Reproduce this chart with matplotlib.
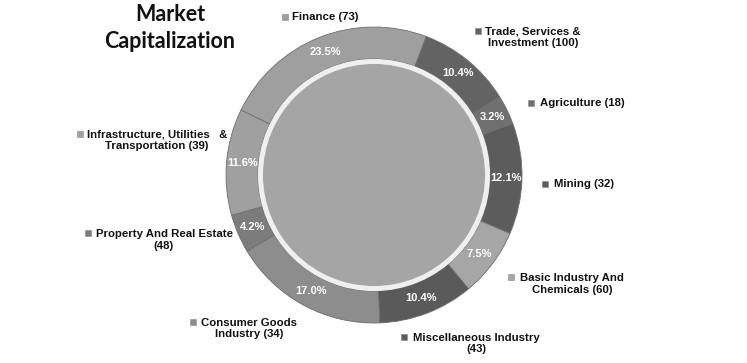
import matplotlib
matplotlib.use("Agg")
import matplotlib.pyplot as plt
from matplotlib.patches import Circle, Rectangle

# ---- data ----
sectors = ["Finance", "Trade, Services &\nInvestment", "Agriculture", "Mining",
           "Basic Industry And\nChemicals", "Miscellaneous Industry\n",
           "Consumer Goods\nIndustry", "Property And Real Estate\n",
           "Infrastructure, Utilities   &\nTransportation"]
counts = [73, 100, 18, 32, 60, 43, 34, 48, 39]
shares = [23.5, 10.4, 3.2, 12.1, 7.5, 10.4, 17.0, 4.2, 11.6]
title = "Market\nCapitalization"

# ---- style ----
colors = ["#9f9f9f", "#636363", "#707070", "#5c5c5c", "#a6a6a6",
          "#5a5a5a", "#8d8d8d", "#7c7c7c", "#a0a0a0"]

W, H = 747, 363
fig = plt.figure(figsize=(W / 100, H / 100), dpi=100)
ax = fig.add_axes([0, 0, 1, 1])

def Y(y):
    return H - y

cx, cy = 374, Y(175)
R = 148
ring_w = 32

wedges, _, autotexts = ax.pie(
    shares, colors=colors, startangle=154, counterclock=False,
    radius=R, center=(cx, cy),
    wedgeprops=dict(width=ring_w, edgecolor="#6e6e6e", linewidth=0.6),
    autopct=lambda p: f"{p:.1f}%", pctdistance=(R - ring_w / 2) / R,
    textprops=dict(color="white", fontsize=8, fontweight="bold",
                   family="Liberation Sans"))

ax.add_patch(Circle((cx, cy), R - ring_w, facecolor="#efefef", edgecolor="none", zorder=3))
ax.add_patch(Circle((cx, cy), R - ring_w - 5, facecolor="#a5a5a5", edgecolor="none", zorder=4))

# label layout: (marker x, marker y, text x, text y, ha)
layout = [
    (285, 17, 292, 17, "left"),
    (478, 31, 533, 37.5, "center"),
    (531, 103, 540, 103, "left"),
    (545, 184, 554, 184, "left"),
    (511, 277, 572, 284, "center"),
    (404, 337, 476, 343.5, "center"),
    (193, 322, 249, 328.5, "center"),
    (88, 233, 164, 240, "center"),
    (80, 134, 157, 140.5, "center"),
]

for (mx, my, tx, ty, ha), name, n, c in zip(layout, sectors, counts, colors):
    txt = f"{name} ({n})" if not name.endswith("\n") else f"{name}({n})"
    ax.add_patch(Rectangle((mx - 3, Y(my) - 3), 6, 6, facecolor=c,
                           edgecolor="#888888", linewidth=0.4))
    ax.text(tx, Y(ty), txt, ha=ha, va="center", fontsize=8.2,
            fontweight="bold", family="Liberation Sans", color="#111111",
            linespacing=1.2)

ax.text(170, Y(28), title, ha="center", va="center", fontsize=15.5,
        fontweight="bold", family="Lato", color="#111111", linespacing=1.4)

ax.set_xlim(0, W)
ax.set_ylim(0, H)
ax.set_aspect("auto")
ax.axis("off")
fig.savefig("out.png", dpi=100, facecolor="white")
